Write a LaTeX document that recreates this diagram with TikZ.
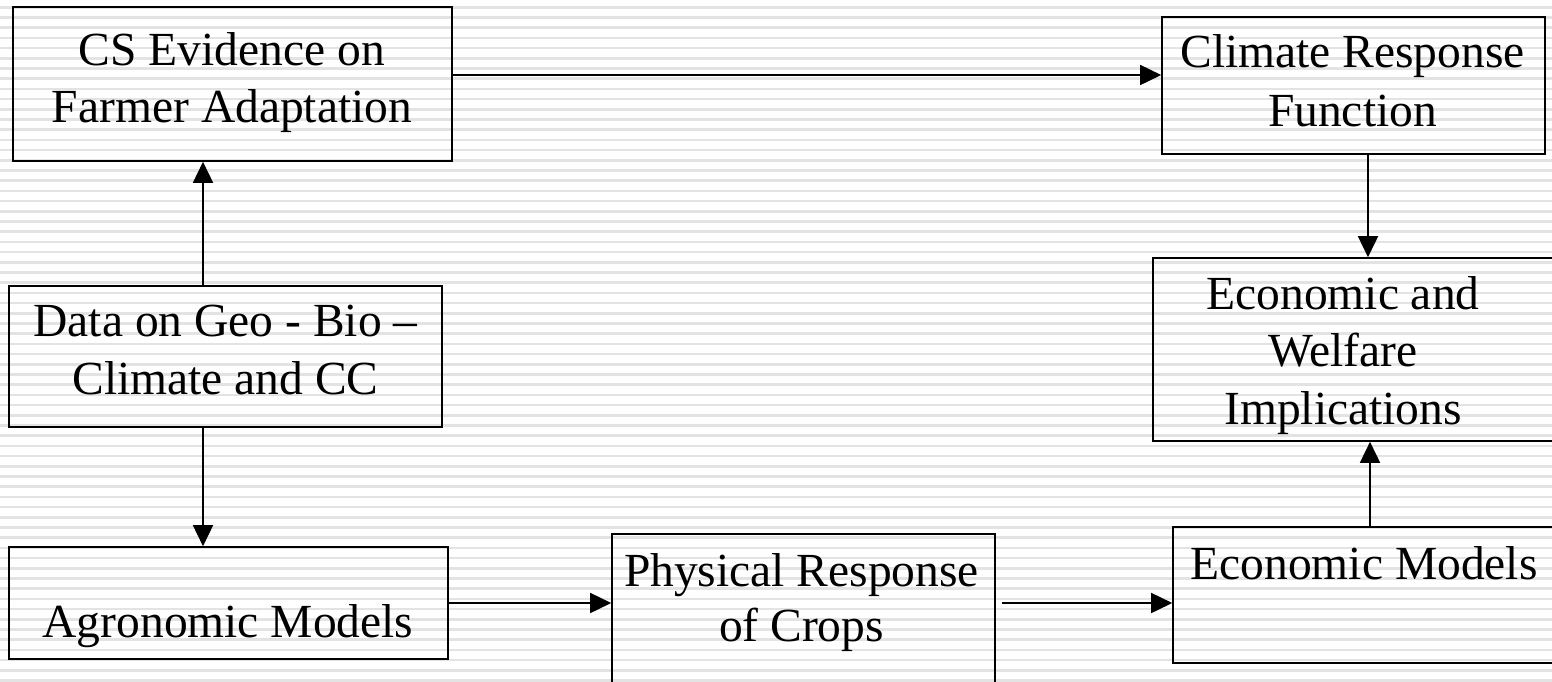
\documentclass[tikz,border=0pt]{standalone}
\usepackage{fontspec}
\setmainfont{Liberation Serif}
\usetikzlibrary{arrows.meta}
\tikzset{
  box/.style={draw=black, line width=1.6pt, inner sep=0pt, fill=none},
  label/.style={anchor=north, inner sep=0pt, align=center, text=black},
  arr/.style={draw=black, line width=1.6pt, -{Triangle[length=21pt,width=20pt]}},
  stripe/.style={draw=black!11, line width=2.6pt}
}
\newcommand{\bigtext}[1]{\fontsize{47.5}{#1}\selectfont}
\begin{document}
\begin{tikzpicture}[x=1pt, y=-1pt]
  \useasboundingbox (0,0) rectangle (1552,681);
  \clip (0,0) rectangle (1552,681);
  % striped backdrop
  \fill[white] (0,0) rectangle (1552,681);
  \foreach \k in {0,...,67} {
    \draw[stripe] (0,{7.2+10.2*\k}) -- (1552,{7.2+10.2*\k});
  }

  % boxes
  \node[box, minimum width=439pt, minimum height=154pt] (cs)   at (232.5,84)   {};
  \node[box, minimum width=383pt, minimum height=137pt] (crf)  at (1353.5,85.5) {};
  \node[box, minimum width=433pt, minimum height=141pt] (data) at (225.5,356.5) {};
  \node[box, minimum width=417pt, minimum height=183pt] (ewi)  at (1361.5,349.5) {};
  \node[box, minimum width=397pt, minimum height=136pt] (em)   at (1371.5,595) {};
  \node[box, minimum width=439pt, minimum height=112pt] (agr)  at (228.5,603) {};
  \node[box, minimum width=383pt, minimum height=176pt] (phys) at (803.5,622) {};

  % box texts
  \node[label, font=\bigtext{57}] (tcs)   at (232,25.1)   {CS Evidence on\strut\\Farmer Adaptation\strut};
  \node[label, font=\bigtext{59}] (tcrf)  at (1352.5,26.4) {Climate Response\strut\\Function\strut};
  \node[label, font=\bigtext{58}] (tdata) at (225.5,295.4) {Data on Geo - Bio --\strut\\Climate and CC\strut};
  \node[label, font=\bigtext{57.5}] (tewi) at (1343,268.75) {Economic and\strut\\Welfare\strut\\Implications\strut};
  \node[label, font=\bigtext{58}] (tem)   at (1364,538.4) {Economic Models\strut};
  \node[label, font=\bigtext{55}] (tphys) at (801.5,547.5) {Physical Response\strut\\of Crops\strut};
  \node[label, font=\bigtext{58}] (tagr)  at (228,596.4) {Agronomic Models\strut};

  % connectors
  \draw[arr] (cs.east |- 0,75) -- (crf.west |- 0,75);
  \draw[arr] (crf.south -| 1368,0) -- (ewi.north -| 1368,0);
  \draw[arr] (em.north -| 1370,0) -- (ewi.south -| 1370,0);
  \draw[arr] (data.north -| 203,0) -- (cs.south -| 203,0);
  \draw[arr] (data.south -| 203,0) -- (agr.north -| 203,0);
  \draw[arr] (agr.east |- 0,603) -- (phys.west |- 0,603);
  \draw[arr] ([xshift=6pt]phys.east |- 0,603) -- (em.west |- 0,603);
\end{tikzpicture}
\end{document}
